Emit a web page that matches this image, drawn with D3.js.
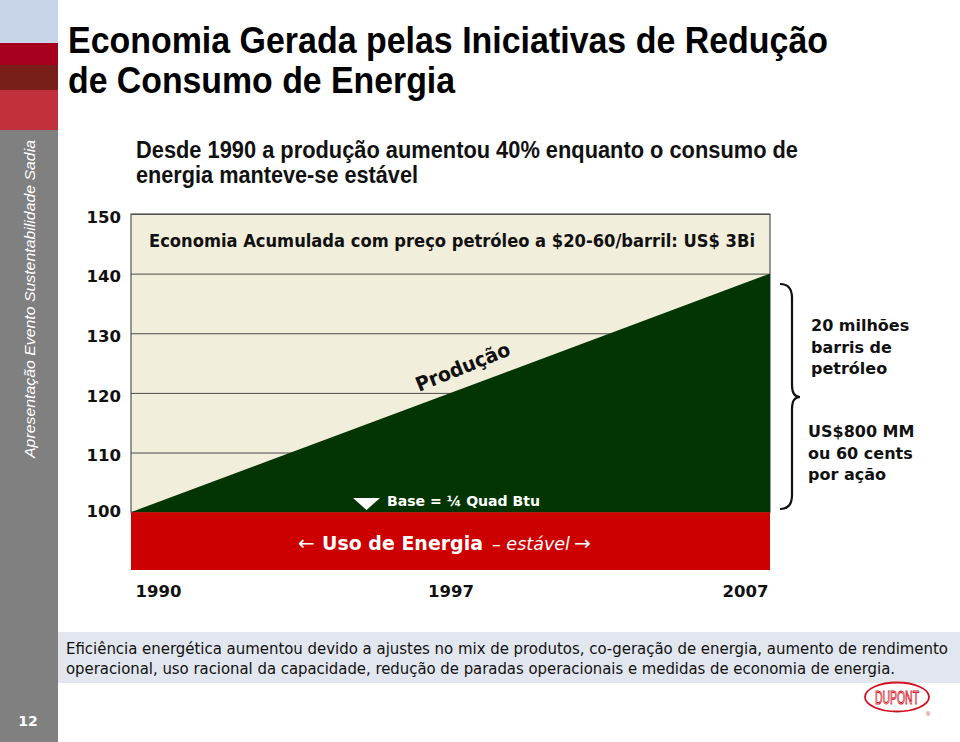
<!DOCTYPE html>
<html><head><meta charset="utf-8">
<script src="https://cdn.jsdelivr.net/npm/d3@7"></script>
<style>body{margin:0;background:#fff;} svg{display:block;}</style>
</head><body>
<script>
// ---- data ----
const yTicks = [100, 110, 120, 130, 140, 150];
const yearLabels = ["1990", "1997", "2007"];
const production = [{year: 1990, value: 100}, {year: 2007, value: 140}];
const energyUse = [{year: 1990, value: 100}, {year: 2007, value: 100}];
const yFloor = 90.3;
const braceNotesTop = ["20 milhões", "barris de", "petróleo"];
const braceNotesBottom = ["US$800 MM", "ou 60 cents", "por ação"];
const footnote = ["Eficiência energética aumentou devido a ajustes no mix de produtos, co-geração de energia, aumento de rendimento",
                  "operacional, uso racional da capacidade, redução de paradas operacionais e medidas de economia de energia."];

(function () {
const W = 960, H = 742;
const svg = d3.select("body").append("svg").attr("width", W).attr("height", H);

// ---- sidebar ----
const side = svg.append("g");
side.append("rect").attr("x",0).attr("y",0).attr("width",58).attr("height",H).attr("fill","#808080");
side.append("rect").attr("x",0).attr("y",0).attr("width",58).attr("height",43).attr("fill","#C8D5E8");
side.append("rect").attr("x",0).attr("y",43).attr("width",58).attr("height",22).attr("fill","#A6001E");
side.append("rect").attr("x",0).attr("y",65).attr("width",58).attr("height",25).attr("fill","#7A1E19");
side.append("rect").attr("x",0).attr("y",90).attr("width",58).attr("height",40).attr("fill","#C0313B");
side.append("text").attr("transform","translate(35,458) rotate(-90)")
  .attr("font-family","Liberation Sans, Arial, sans-serif").attr("font-style","italic").attr("font-weight","normal")
  .attr("font-size",15.5).attr("fill","#fff").attr("textLength",318).attr("lengthAdjust","spacingAndGlyphs")
  .text("Apresentação Evento Sustentabilidade Sadia");
side.append("text").attr("x",28).attr("y",726).attr("text-anchor","middle")
  .attr("font-family","DejaVu Sans, Verdana, sans-serif").attr("font-weight","bold").attr("font-size",14).attr("fill","#fff").text("12");

// ---- titles ----
const sans = "Liberation Sans Narrow, Liberation Sans, Arial, sans-serif";
svg.append("text").attr("x",68).attr("y",53).attr("font-family",sans).attr("font-weight","bold").attr("font-size",36)
  .attr("textLength",760).attr("lengthAdjust","spacingAndGlyphs").text("Economia Gerada pelas Iniciativas de Redução");
svg.append("text").attr("x",68).attr("y",93).attr("font-family",sans).attr("font-weight","bold").attr("font-size",36)
  .attr("textLength",387).attr("lengthAdjust","spacingAndGlyphs").text("de Consumo de Energia");
svg.append("text").attr("x",136).attr("y",158).attr("font-family",sans).attr("font-weight","bold").attr("font-size",23)
  .attr("fill","#111").attr("textLength",662).attr("lengthAdjust","spacingAndGlyphs").text("Desde 1990 a produção aumentou 40% enquanto o consumo de");
svg.append("text").attr("x",136).attr("y",183).attr("font-family",sans).attr("font-weight","bold").attr("font-size",23)
  .attr("fill","#111").attr("textLength",282).attr("lengthAdjust","spacingAndGlyphs").text("energia manteve-se estável");

// ---- chart ----
const pL = 131, pR = 770, pT = 214, pB = 570;
const x = d3.scaleLinear().domain([1990, 2007]).range([pL, pR]);
const y = d3.scaleLinear().domain([yFloor, 150]).range([pB, pT]);
const xLab = d3.scalePoint().domain(yearLabels).range([pL, pR]);

const g = svg.append("g");
g.append("rect").attr("x",pL).attr("y",y(150)).attr("width",pR-pL).attr("height",y(100)-y(150)).attr("fill","#F1EEDB");

const grid = g.append("g").attr("transform",`translate(${pL},0)`)
  .call(d3.axisLeft(y).tickValues(yTicks.filter(v => v > 100)).tickSize(-(pR-pL)).tickFormat(""));
grid.select(".domain").remove();
grid.selectAll("line").attr("stroke","#4a4a4a").attr("stroke-width",1);

g.append("rect").attr("x",pL).attr("y",y(150)).attr("width",pR-pL).attr("height",y(100)-y(150))
  .attr("fill","none").attr("stroke","#555").attr("stroke-width",1.2);

const prodArea = d3.area().x(d => x(d.year)).y0((d,i) => y(energyUse[i].value)).y1(d => y(d.value));
g.append("path").datum(production).attr("d", prodArea).attr("fill","#033503");

const enArea = d3.area().x(d => x(d.year)).y0(y(yFloor)).y1(d => y(d.value));
g.append("path").datum(energyUse).attr("d", enArea).attr("fill","#CC0000");

const yAx = g.append("g").attr("transform","translate(121,0)")
  .call(d3.axisLeft(y).tickValues(yTicks).tickSize(0).tickPadding(0));
yAx.select(".domain").remove();
yAx.selectAll("text").attr("font-family","DejaVu Sans, Verdana, sans-serif").attr("font-weight","bold")
  .attr("font-size",16.5).attr("fill","#111").attr("dy","0.62em").attr("y",(d)=> d===100 ? -6 : -2);

const xAx = g.append("g").attr("transform","translate(0,580)")
  .call(d3.axisBottom(xLab).tickSize(0).tickPadding(0));
xAx.select(".domain").remove();
xAx.selectAll("text").attr("font-family","DejaVu Sans, Verdana, sans-serif").attr("font-weight","bold")
  .attr("font-size",16.5).attr("fill","#111").attr("dy","1em")
  .attr("text-anchor",(d,i) => i===0 ? "start" : (i===yearLabels.length-1 ? "end" : "middle"))
  .attr("x",(d,i) => i===0 ? 4 : (i===yearLabels.length-1 ? -2 : 0));

const cond = "DejaVu Sans Condensed, DejaVu Sans, Verdana, sans-serif";
g.append("text").attr("x",149).attr("y",247).attr("font-family",cond).attr("font-weight","bold").attr("font-size",17)
  .attr("fill","#111").attr("textLength",606).attr("lengthAdjust","spacingAndGlyphs")
  .text("Economia Acumulada com preço petróleo a $20-60/barril: US$ 3Bi");

g.append("text").attr("transform","translate(419,392) rotate(-22)")
  .attr("font-family","DejaVu Sans, Verdana, sans-serif").attr("font-weight","bold").attr("font-size",20)
  .attr("fill","#111").attr("textLength",100).attr("lengthAdjust","spacingAndGlyphs").text("Produção");

g.append("path").attr("d","M353,498 L380,498 L366.5,510 Z").attr("fill","#fff");
g.append("text").attr("x",387).attr("y",506).attr("font-family","DejaVu Sans, Verdana, sans-serif").attr("font-weight","bold")
  .attr("font-size",14).attr("fill","#fff").attr("textLength",153).attr("lengthAdjust","spacingAndGlyphs").text("Base = ¼ Quad Btu");

const en = g.append("text").attr("x",298).attr("y",550).attr("font-family","DejaVu Sans, Verdana, sans-serif")
  .attr("fill","#fff").attr("font-size",20);
en.append("tspan").attr("font-weight","normal").text("← ");
en.append("tspan").attr("font-weight","bold").attr("textLength",161).attr("lengthAdjust","spacingAndGlyphs").attr("x",322).text("Uso de Energia");
en.append("tspan").attr("x",492).attr("font-style","italic").attr("font-size",18).attr("textLength",78).attr("lengthAdjust","spacingAndGlyphs").text("– estável");
en.append("tspan").attr("x",574).text("→");

const bx = 780, by0 = 284, by1 = 509, bm = 397, tip = 800;
const brace = `M${bx},${by0} Q${bx+12},${by0} ${bx+12},${by0+14} L${bx+12},${bm-12} Q${bx+12},${bm} ${tip},${bm}
 Q${bx+12},${bm} ${bx+12},${bm+12} L${bx+12},${by1-14} Q${bx+12},${by1} ${bx},${by1}`;
svg.append("path").attr("d",brace).attr("fill","none").attr("stroke","#111").attr("stroke-width",2.2);

svg.append("g").selectAll("text").data(braceNotesTop).join("text")
  .attr("x",811).attr("y",(d,i)=>331+i*21.5).attr("font-family","DejaVu Sans, Verdana, sans-serif").attr("font-weight","bold")
  .attr("font-size",16).attr("fill","#111").text(d=>d);
svg.append("g").selectAll("text").data(braceNotesBottom).join("text")
  .attr("x",808).attr("y",(d,i)=>437+i*21.5).attr("font-family","DejaVu Sans, Verdana, sans-serif").attr("font-weight","bold")
  .attr("font-size",16).attr("fill","#111").text(d=>d);

svg.append("rect").attr("x",58).attr("y",632).attr("width",W-58).attr("height",51).attr("fill","#E2E6EE");
svg.append("g").selectAll("text").data(footnote).join("text")
  .attr("x",66).attr("y",(d,i)=>654+i*20).attr("font-family","DejaVu Sans Condensed, DejaVu Sans, Tahoma, sans-serif")
  .attr("font-size",16).attr("fill","#111").attr("textLength",(d,i)=> i===0 ? 882 : 829).attr("lengthAdjust","spacingAndGlyphs")
  .text(d=>d);

const logo = svg.append("g");
logo.append("ellipse").attr("cx",897).attr("cy",697).attr("rx",32).attr("ry",14.5).attr("fill","none").attr("stroke","#D0101E").attr("stroke-width",1.8);
logo.append("text").attr("x",897).attr("y",704).attr("text-anchor","middle").attr("font-family",sans).attr("font-size",19)
  .attr("fill","#fff").attr("stroke","#D0101E").attr("stroke-width",1).attr("textLength",44).attr("lengthAdjust","spacingAndGlyphs").text("DUPONT");
logo.append("text").attr("x",926).attr("y",716).attr("font-family",sans).attr("font-size",6).attr("fill","#D0101E").text("®");
})();
</script>
</body></html>
